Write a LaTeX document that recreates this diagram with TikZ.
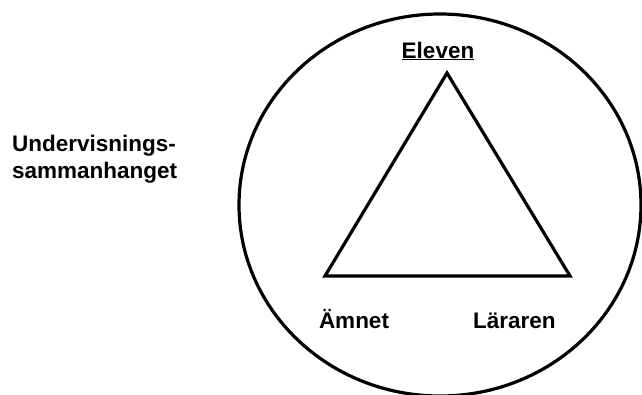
\documentclass[tikz,border=0pt]{standalone}
\usepackage{fontspec}
\setmainfont{Liberation Sans}
\begin{document}
\begin{tikzpicture}[x=1pt,y=-1pt,
  lbl/.style={font=\fontsize{22.5}{27}\selectfont\bfseries, inner sep=0pt, anchor=base},
  thick line/.style={line width=3.2pt, line join=miter}]
\useasboundingbox (0,0) rectangle (642,394);
\draw[thick line] (440,205) ellipse [x radius=201, y radius=191];
\coordinate (top) at (447,73);
\coordinate (bl) at (325,276);
\coordinate (br) at (570,276);
\draw[thick line] (top) -- (bl) -- (br) -- cycle;
\node[lbl] (eleven) at (438,58) {\underline{Eleven}};
\node[lbl] (amnet) at (354,328) {Ämnet};
\node[lbl, anchor=base west] (lararen) at (473,328) {Läraren};
\node[lbl, anchor=base west, align=left] (ctx) at (12,178) {Undervisnings-\\sammanhanget};
\end{tikzpicture}
\end{document}
